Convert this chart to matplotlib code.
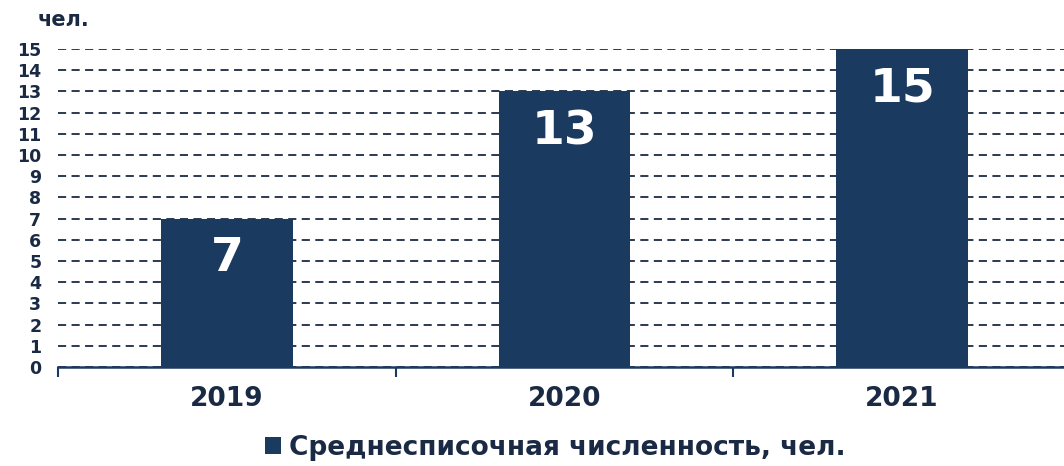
import matplotlib.pyplot as plt
import numpy as np

years = ['2019', '2020', '2021']
staff = [7, 13, 15]
y_ticks = list(range(0, 16))
legend_label = 'Среднесписочная численность, чел.'
unit_label = 'чел.'

navy = '#1b3a60'
text_c = '#1a2a44'

plt.rcParams['font.family'] = ['DejaVu Sans']
plt.rcParams['font.weight'] = 'bold'

fig = plt.figure(figsize=(10.64, 4.66), dpi=100)
ax = fig.add_axes([58 / 1064, 1 - 367 / 466, 1013 / 1064, 318 / 466])

x = np.arange(len(years))
bars = ax.bar(x, staff, width=0.39, color=navy, zorder=3, label=legend_label)
for xi, v in zip(x, staff):
    ax.text(xi, v - 1.9, str(v), ha='center', va='center', color='white',
            fontsize=34, fontweight='bold', zorder=4)

ax.set_xlim(-0.5, 2.5)
ax.set_ylim(0, 15)
ax.set_yticks(y_ticks)
ax.set_yticklabels([str(t) for t in y_ticks], fontsize=12.5, color=text_c, fontweight='bold')
ax.tick_params(axis='y', length=0, pad=12)

ax.set_xticks(x)
ax.set_xticklabels(years, fontsize=19, color=text_c, fontweight='bold')
ax.tick_params(axis='x', which='major', length=0, pad=14)
ax.set_xticks([-0.5, 0.5, 1.5, 2.5], minor=True)
ax.tick_params(axis='x', which='minor', length=7, width=1.5, color=navy, direction='out')

ax.grid(axis='y', color=text_c, linestyle=(0, (4.5, 3)), linewidth=1.3, zorder=1)
for s in ['top', 'right', 'left']:
    ax.spines[s].set_visible(False)
ax.spines['bottom'].set_color(navy)
ax.spines['bottom'].set_linewidth(1.8)

fig.text(38 / 1064, 1 - 20 / 466, unit_label, fontsize=15, color=text_c,
         fontweight='bold', va='center', ha='left')

fig.legend(handles=[bars], labels=[legend_label], loc='center',
           bbox_to_anchor=(555 / 1064, 1 - 448 / 466), frameon=False,
           prop={'size': 19, 'weight': 'bold'}, labelcolor=text_c,
           handlelength=0.6, handleheight=0.6, handletextpad=0.3)

fig.savefig('out.png', dpi=100)
